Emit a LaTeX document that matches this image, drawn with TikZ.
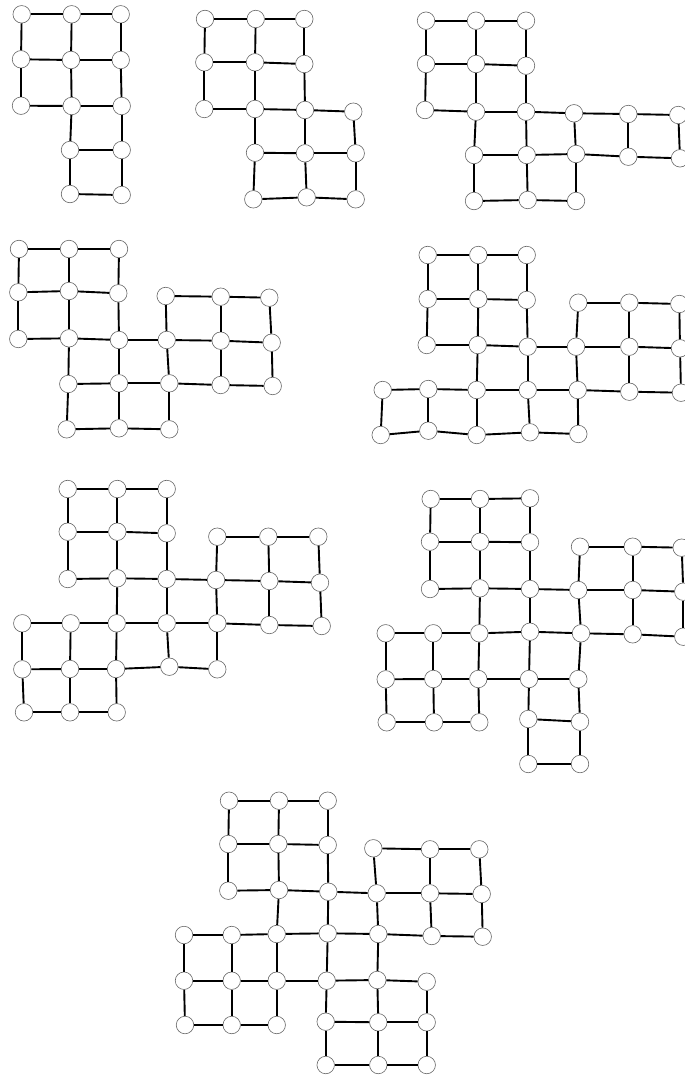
\documentclass[tikz,border=0pt]{standalone}
\begin{document}
\begin{tikzpicture}[x=1pt,y=-1pt,
  vtx/.style={circle,draw=black!60,line width=0.6pt,fill=white,minimum size=17.5pt,inner sep=0pt},
  edg/.style={line width=1.9pt,black}]
\useasboundingbox (0,0) rectangle (685,1076);
% ---------- graph a ----------
\foreach \n/\x/\y in {a11/21.7/14.3,a12/71.7/14.3,a13/120.7/14.3,
  a21/21/59.3,a22/71/60,a23/120.7/60,
  a31/21/105.7,a32/71.7/106,a33/121.7/106,
  a42/70/150,a43/121.7/150,
  a52/70/194,a53/121.7/195}
  \node[vtx] (\n) at (\x,\y) {};
\foreach \p/\q in {a11/a12,a12/a13,a21/a22,a22/a23,a31/a32,a32/a33,a42/a43,a52/a53,
  a11/a21,a21/a31,a12/a22,a22/a32,a32/a42,a42/a52,a13/a23,a23/a33,a33/a43,a43/a53}
  \draw[edg] (\p) -- (\q);
% ---------- graph b ----------
\foreach \n/\x/\y in {b11/205/19,b12/255.7/19,b13/304.3/19,
  b21/204.3/62.3,b22/255/62.3,b23/304.3/64,
  b31/204.3/109,b32/255/109,b33/305/110,b34/353.3/111.7,
  b42/255/152.7,b43/305/153.3,b44/355.7/153.3,
  b52/253.3/199.3,b53/306.7/197.3,b54/355.7/199.3}
  \node[vtx] (\n) at (\x,\y) {};
\foreach \p/\q in {b11/b12,b12/b13,b21/b22,b22/b23,b31/b32,b32/b33,b33/b34,b42/b43,b43/b44,b52/b53,b53/b54,
  b11/b21,b21/b31,b12/b22,b22/b32,b32/b42,b42/b52,b13/b23,b23/b33,b33/b43,b43/b53,b34/b44,b44/b54}
  \draw[edg] (\p) -- (\q);
% ---------- graph c ----------
\foreach \n/\x/\y in {c11/426/20.7,c12/476/20.7,c13/526/20.7,
  c21/426/64,c22/476/64,c23/526/65.7,
  c31/425/110,c32/476/111.7,c33/526/111.7,c34/574/113.3,c35/628.3/114,c36/678.3/115,
  c42/474/155,c43/526.7/155,c44/576/154,c45/628.3/156.7,c46/680/158.3,
  c52/474/201,c53/527.7/200,c54/576/201}
  \node[vtx] (\n) at (\x,\y) {};
\foreach \p/\q in {c11/c12,c12/c13,c21/c22,c22/c23,c31/c32,c32/c33,c33/c34,c34/c35,c35/c36,
  c42/c43,c43/c44,c44/c45,c45/c46,c52/c53,c53/c54,
  c11/c21,c21/c31,c12/c22,c22/c32,c32/c42,c42/c52,c13/c23,c23/c33,c33/c43,c43/c53,
  c34/c44,c44/c54,c35/c45,c36/c46}
  \draw[edg] (\p) -- (\q);
% ---------- graph d ----------
\foreach \n/\x/\y in {d11/19/249,d12/69/249,d13/119/249,
  d21/18.3/292.3,d22/69/291,d23/118.3/293.3,
  du4/165.7/296,du5/220.7/296.7,du6/269.3/297.7,
  d31/18.3/339,d32/69/338.3,d33/119/340,d34/166.7/340,d35/220.7/340.7,d36/271.7/342.7,
  d42/68.3/384,d43/119/383.3,d44/169.3/383.3,d45/220.7/385,d46/272.7/386,
  d52/66.7/429.3,d53/119/428.3,d54/169.3/429.3}
  \node[vtx] (\n) at (\x,\y) {};
\foreach \p/\q in {d11/d12,d12/d13,d21/d22,d22/d23,du4/du5,du5/du6,
  d31/d32,d32/d33,d33/d34,d34/d35,d35/d36,d42/d43,d43/d44,d44/d45,d45/d46,d52/d53,d53/d54,
  d11/d21,d21/d31,d12/d22,d22/d32,d32/d42,d42/d52,d13/d23,d23/d33,d33/d43,d43/d53,
  du4/d34,d34/d44,d44/d54,du5/d35,d35/d45,du6/d36,d36/d46}
  \draw[edg] (\p) -- (\q);
% ---------- graph e ----------
\foreach \n/\x/\y in {e11/427.7/255,e12/478.3/255,e13/526.7/255,
  e21/427.7/299,e22/478.3/299,e23/526.7/300,
  eu4/578.3/302.7,eu5/629.3/302.7,eu6/679.3/304,
  e31/426.7/345,e32/477.7/345,e33/527.7/346.7,e34/576/346.7,e35/629.3/346.7,e36/680/348.3,
  e40/382.7/390,e41/428.3/389,e42/476.7/390,e43/527.7/390,e44/577.7/390,e45/629.3/391.7,e46/681/392.7,
  e50/380.7/435,e51/428.3/430.7,e52/476.7/435,e53/530/432.3,e54/578.3/434}
  \node[vtx] (\n) at (\x,\y) {};
\foreach \p/\q in {e11/e12,e12/e13,e21/e22,e22/e23,eu4/eu5,eu5/eu6,
  e31/e32,e32/e33,e33/e34,e34/e35,e35/e36,
  e40/e41,e41/e42,e42/e43,e43/e44,e44/e45,e45/e46,
  e50/e51,e51/e52,e52/e53,e53/e54,
  e11/e21,e21/e31,e12/e22,e22/e32,e32/e42,e42/e52,e13/e23,e23/e33,e33/e43,e43/e53,
  eu4/e34,e34/e44,e44/e54,eu5/e35,e35/e45,eu6/e36,e36/e46,e40/e50,e41/e51}
  \draw[edg] (\p) -- (\q);
% ---------- graph f ----------
\foreach \n/\x/\y in {f11/67.7/489,f12/117.3/489,f13/166.7/489,
  f21/67.7/531.7,f22/117.3/531.7,f23/166.7/533.3,
  fu4/217.3/536.7,fu5/268.3/536.7,fu6/318.3/536.7,
  f31/67.7/579,f32/117.3/578.3,f33/166.7/579,f34/216/580,f35/269.3/581,f36/320/582.7,
  f40/22.3/623.3,f41/70.7/623.3,f42/116.7/623.3,f43/166.7/623.3,f44/217.3/623.3,f45/269.3/625,f46/321.7/626,
  f50/22.3/669.3,f51/70/669,f52/116/669,f53/169.3/666.7,f54/217.3/669.3,
  f60/24/712.3,f61/70/712.3,f62/116.7/712.3}
  \node[vtx] (\n) at (\x,\y) {};
\foreach \p/\q in {f11/f12,f12/f13,f21/f22,f22/f23,fu4/fu5,fu5/fu6,
  f31/f32,f32/f33,f33/f34,f34/f35,f35/f36,
  f40/f41,f41/f42,f42/f43,f43/f44,f44/f45,f45/f46,
  f50/f51,f51/f52,f52/f53,f53/f54,f60/f61,f61/f62,
  f40/f50,f50/f60,f11/f21,f21/f31,f41/f51,f51/f61,
  f12/f22,f22/f32,f32/f42,f42/f52,f52/f62,
  f13/f23,f23/f33,f33/f43,f43/f53,
  fu4/f34,f34/f44,f44/f54,fu5/f35,f35/f45,fu6/f36,f36/f46}
  \draw[edg] (\p) -- (\q);
% ---------- graph g ----------
\foreach \n/\x/\y in {g11/430.7/499,g12/480/499,g13/530/498.3,
  g21/430/541.7,g22/480/541.7,g23/530/542.3,
  gu4/580/546.7,gu5/632.7/546.7,gu6/681.7/547.7,
  g31/430/589,g32/480/588.3,g33/530/589,g34/578.3/590,g35/632.7/590,g36/683.3/591.7,
  g40/385.7/633.3,g41/433.3/633.3,g42/479.3/633.3,g43/530/631.7,g44/581/633.3,g45/632.7/634.3,g46/683.3/636.7,
  g50/385.7/679.3,g51/433.3/679,g52/478.3/679,g53/529/679,g54/578.3/679,
  g60/386.7/722.3,g61/434/722.3,g62/479.3/722.3,g63/528.3/719,g64/580/721.7,
  g73/528.3/764,g74/580/764}
  \node[vtx] (\n) at (\x,\y) {};
\foreach \p/\q in {g11/g12,g12/g13,g21/g22,g22/g23,gu4/gu5,gu5/gu6,
  g31/g32,g32/g33,g33/g34,g34/g35,g35/g36,
  g40/g41,g41/g42,g42/g43,g43/g44,g44/g45,g45/g46,
  g50/g51,g51/g52,g52/g53,g53/g54,g60/g61,g61/g62,g63/g64,g73/g74,
  g40/g50,g50/g60,g11/g21,g21/g31,g41/g51,g51/g61,
  g12/g22,g22/g32,g32/g42,g42/g52,g52/g62,
  g13/g23,g23/g33,g33/g43,g43/g53,g53/g63,g63/g73,
  gu4/g34,g34/g44,g44/g54,g54/g64,g64/g74,
  gu5/g35,g35/g45,gu6/g36,g36/g46}
  \draw[edg] (\p) -- (\q);
% ---------- graph h ----------
\foreach \n/\x/\y in {h11/229/800.7,h12/279/800.7,h13/327.7/800.7,
  h21/228.3/844,h22/278.3/844,h23/327.7/845,
  hu4/373.3/848.3,hu5/430/849.3,hu6/479.3/849.3,
  h31/228.3/890.7,h32/279/890,h33/328.3/891.7,h34/376.7/893.3,h35/430/893.3,h36/481.7/894,
  h40/184/935,h41/231.7/935,h42/276.7/934,h43/327.7/933.3,h44/378.3/934,h45/431.7/936,h46/482.7/936.7,
  h50/184/980.7,h51/231.7/980.7,h52/276.7/980.7,h53/326.7/980.7,h54/377.3/980,h55/426.7/981.7,
  h60/185/1025,h61/231.7/1025,h62/276.7/1025,h63/325.7/1021.7,h64/378.3/1022.3,h65/426.7/1022.3,
  h73/325.7/1065,h74/378.3/1065,h75/426.7/1065}
  \node[vtx] (\n) at (\x,\y) {};
\foreach \p/\q in {h11/h12,h12/h13,h21/h22,h22/h23,hu4/hu5,hu5/hu6,
  h31/h32,h32/h33,h33/h34,h34/h35,h35/h36,
  h40/h41,h41/h42,h42/h43,h43/h44,h44/h45,h45/h46,
  h50/h51,h51/h52,h52/h53,h53/h54,h54/h55,
  h60/h61,h61/h62,h63/h64,h64/h65,h73/h74,h74/h75,
  h40/h50,h50/h60,h11/h21,h21/h31,h41/h51,h51/h61,
  h12/h22,h22/h32,h32/h42,h42/h52,h52/h62,
  h13/h23,h23/h33,h33/h43,h43/h53,h53/h63,h63/h73,
  hu4/h34,h34/h44,h44/h54,h54/h64,h64/h74,
  hu5/h35,h35/h45,h55/h65,h65/h75,hu6/h36,h36/h46}
  \draw[edg] (\p) -- (\q);
\end{tikzpicture}
\end{document}
